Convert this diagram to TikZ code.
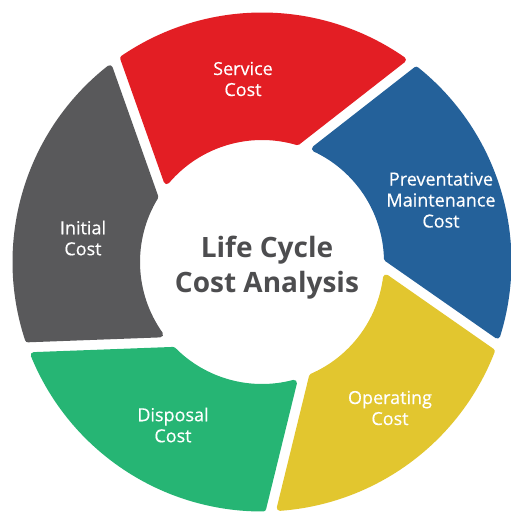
\documentclass[tikz,border=0pt]{standalone}
\usepackage{fontspec}
\setmainfont{Open Sans}
\newfontface\lblfont{Open Sans}[FakeBold=0.4]
\definecolor{cred}{HTML}{E31E24}
\definecolor{cblue}{HTML}{24619A}
\definecolor{cyellow}{HTML}{E2C62F}
\definecolor{cgreen}{HTML}{26B574}
\definecolor{cgray}{HTML}{59595B}
\definecolor{ctext}{HTML}{4D4D4F}
\tikzset{
  lbl/.style={text=white, align=center, font=\lblfont\fontsize{18}{21}\selectfont},
  title/.style={text=ctext, align=center, font=\bfseries\fontsize{28}{35}\selectfont},
  seg/.style={fill=#1, draw=#1, line width=6pt, line join=round}
}
\begin{document}
\begin{tikzpicture}[x=1pt,y=1pt]
\useasboundingbox (-262,-250) rectangle (249,262);
% geometry
\pgfmathsetmacro{\rin}{122}
\pgfmathsetmacro{\rout}{249.5}
\pgfmathsetmacro{\h}{8}   % half gap + corner radius
\pgfmathsetmacro{\Ro}{\rout-3}
\pgfmathsetmacro{\Ri}{\rin+3}
\foreach \j/\col/\aA/\tA/\aB/\tB in {0/cred/126/19/53/17,1/cblue/53/17/-19.5/17.5,2/cyellow/-19.5/17.5/-88/18,3/cgreen/-88/18/-160/21,4/cgray/-160/21/-234/19}{
  % separator A (counter-clockwise side)
  \pgfmathsetmacro{\pix}{\rin*cos(\tA)}
  \pgfmathsetmacro{\piy}{\rin*sin(\tA)}
  \pgfmathsetmacro{\dl}{veclen(\rout-\pix,\piy)}
  \pgfmathsetmacro{\phA}{atan2(\rout-\pix,\piy)}
  \pgfmathsetmacro{\cA}{\rout*\piy/\dl}
  % separator B (clockwise side)
  \pgfmathsetmacro{\pix}{\rin*cos(\tB)}
  \pgfmathsetmacro{\piy}{\rin*sin(\tB)}
  \pgfmathsetmacro{\dl}{veclen(\rout-\pix,\piy)}
  \pgfmathsetmacro{\phB}{atan2(\rout-\pix,\piy)}
  \pgfmathsetmacro{\cB}{\rout*\piy/\dl}
  \pgfmathsetmacro{\tAo}{\aA+\phA-acos((\cA-\h)/\Ro)}
  \pgfmathsetmacro{\tAi}{\aA+\phA-acos((\cA-\h)/\Ri)}
  \pgfmathsetmacro{\tBo}{\aB+\phB-acos((\cB+\h)/\Ro)}
  \pgfmathsetmacro{\tBi}{\aB+\phB-acos((\cB+\h)/\Ri)}
  \path[seg=\col] (\tAo:\Ro) arc[start angle=\tAo, end angle=\tBo, radius=\Ro]
    -- (\tBi:\Ri) arc[start angle=\tBi, end angle=\tAi, radius=\Ri] -- cycle;
}
\node[lbl] (service) at (-19,183) {Service\\Cost};
\node[lbl] (prev) at (179,62) {Preventative\\Maintenance\\Cost};
\node[lbl] (oper) at (128,-146) {Operating\\Cost};
\node[lbl] (disp) at (-89,-163) {Disposal\\Cost};
\node[lbl] (init) at (-179,24) {Initial\\Cost};
\node[title] (center) at (5,-5.5) {Life Cycle\\Cost Analysis};
\end{tikzpicture}
\end{document}
